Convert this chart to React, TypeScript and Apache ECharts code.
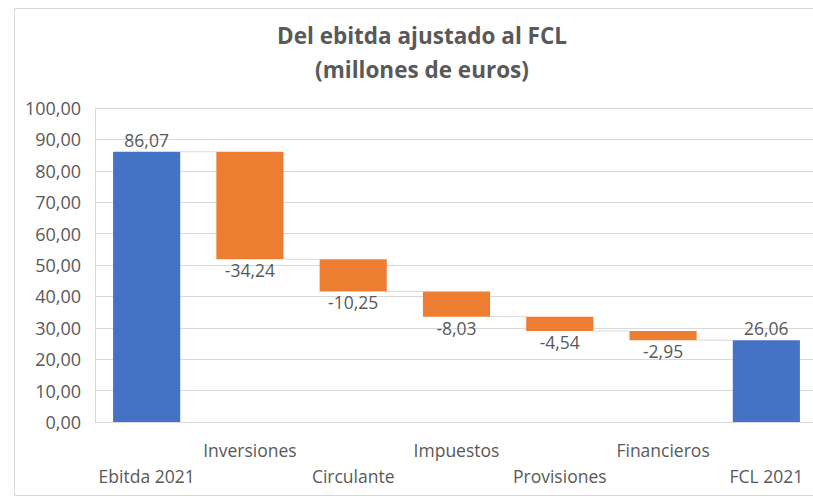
import React, { useEffect, useRef } from "react";
import * as echarts from "echarts";

const categories = ["Ebitda 2021", "Inversiones", "Circulante", "Impuestos", "Provisiones", "Financieros", "FCL 2021"];
const values = [86.07, -34.24, -10.25, -8.03, -4.54, -2.95, 26.06];
const isTotal = [true, false, false, false, false, false, true];
const yTicks = { min: 0, max: 100, interval: 10 };
const titleLines = ["Del ebitda ajustado al FCL", "(millones de euros)"];

const fmt = (v: number) => v.toFixed(2).replace(".", ",");

export default function App() {
  const ref = useRef<HTMLDivElement>(null);
  useEffect(() => {
    if (!ref.current) return;
    const chart = echarts.init(ref.current, undefined, { renderer: "svg" });

    const base: number[] = [];
    const height: number[] = [];
    const levels: number[] = [];
    let running = 0;
    values.forEach((v, i) => {
      if (isTotal[i]) {
        base.push(0);
        height.push(v);
        running = v;
      } else {
        const end = running + v;
        base.push(Math.min(running, end));
        height.push(Math.abs(v));
        running = end;
      }
      levels.push(running);
    });

    const barFrac = 0.65;
    const font = "Open Sans";
    const grey = "#595959";

    chart.setOption({
      animation: false,
      graphic: [
        {
          type: "rect",
          left: 12,
          top: 6,
          shape: { x: 0, y: 0, width: 830, height: 487 },
          style: { fill: "none", stroke: "#d9d9d9", lineWidth: 1 },
          silent: true,
        },
        {
          type: "text",
          x: 422,
          y: 18,
          style: {
            text: titleLines.join("\n"),
            textAlign: "center",
            fontFamily: font,
            fontWeight: "bold",
            fontSize: 22.5,
            lineHeight: 34,
            fill: grey,
          },
        },
      ],
      grid: { left: 95, right: 4, top: 108, bottom: 74, containLabel: false },
      xAxis: {
        type: "category",
        data: categories,
        axisTick: { show: false },
        axisLine: { lineStyle: { color: "#d9d9d9" } },
        axisLabel: {
          interval: 0,
          color: grey,
          fontFamily: font,
          fontSize: 17.5,
          lineHeight: 26,
          margin: 15,
          formatter: (v: string, i: number) => (i % 2 === 0 ? " \n" + v : v),
        },
      },
      yAxis: {
        type: "value",
        min: yTicks.min,
        max: yTicks.max,
        interval: yTicks.interval,
        axisLine: { show: true, lineStyle: { color: "#d9d9d9" } },
        axisTick: { show: false },
        splitLine: { lineStyle: { color: "#d9d9d9" } },
        axisLabel: {
          color: grey,
          fontFamily: font,
          fontSize: 18,
          margin: 14,
          formatter: (v: number) => fmt(v),
        },
      },
      series: [
        {
          type: "bar",
          stack: "wf",
          data: base,
          barWidth: barFrac * 100 + "%",
          itemStyle: { color: "transparent" },
          silent: true,
        },
        {
          type: "bar",
          stack: "wf",
          data: height.map((h, i) => ({
            value: h,
            itemStyle: { color: isTotal[i] ? "#4472C4" : "#ED7D31" },
            label: {
              show: true,
              position: isTotal[i] ? "top" : "bottom",
              distance: isTotal[i] ? 3 : 2,
              formatter: () => fmt(values[i]),
            },
          })),
          barWidth: barFrac * 100 + "%",
          label: { color: grey, fontFamily: font, fontSize: 17.5 },
        },
        {
          type: "custom",
          data: levels.slice(0, -1).map((l, i) => [i, l]),
          silent: true,
          z: 1,
          renderItem: (params: any, api: any) => {
            const i = api.value(0);
            const lvl = api.value(1);
            const p1 = api.coord([i, lvl]);
            const p2 = api.coord([i + 1, lvl]);
            const band = api.size([1, 0])[0];
            const half = (band * barFrac) / 2;
            return {
              type: "line",
              shape: { x1: p1[0] + half, y1: p1[1], x2: p2[0] - half, y2: p2[1] },
              style: { stroke: "#d9d9d9", lineWidth: 1 },
            };
          },
        },
      ],
    });
    return () => chart.dispose();
  }, []);
  return (
    <div
      style={{ position: "absolute", left: 0, top: 0, width: 813, height: 496, overflow: "hidden", background: "#fff" }}
    >
      <div ref={ref} style={{ width: 822, height: 496 }} />
    </div>
  );
}
